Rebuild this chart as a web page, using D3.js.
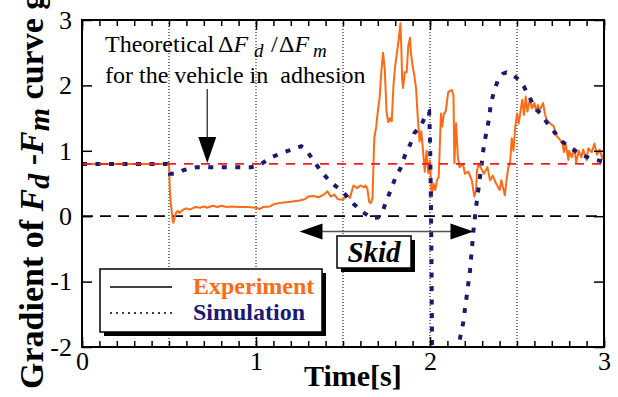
<!DOCTYPE html>
<html>
<head>
<meta charset="utf-8">
<script src="https://cdn.jsdelivr.net/npm/d3@7"></script>
<style>
  html, body { margin: 0; padding: 0; background: #fff; }
  svg { display: block; }
  svg text { font-family: "Liberation Serif", "Times New Roman", serif; white-space: pre; }
</style>
</head>
<body>
<svg id="chart" width="618" height="397"></svg>
<script>
// Measured gradient of the Fd-Fm curve (experiment)
const expTime = [0, 0.49, 0.5, 0.505, 0.51, 0.515, 0.52, 0.525, 0.53, 0.54, 0.55, 0.56, 0.58, 0.6, 0.62, 0.65, 0.68, 0.7, 0.72, 0.75, 0.78, 0.8, 0.83, 0.86, 0.9, 0.95, 1.0, 1.02, 1.04, 1.08, 1.1, 1.13, 1.16, 1.2, 1.25, 1.28, 1.3, 1.33, 1.36, 1.39, 1.41, 1.43, 1.45, 1.47, 1.5, 1.52, 1.54, 1.56, 1.58, 1.6, 1.62, 1.63, 1.64, 1.65, 1.66, 1.67, 1.675, 1.68, 1.69, 1.7, 1.71, 1.72, 1.73, 1.74, 1.75, 1.76, 1.77, 1.78, 1.79, 1.8, 1.81, 1.82, 1.83, 1.835, 1.84, 1.845, 1.855, 1.866, 1.875, 1.885, 1.89, 1.9, 1.91, 1.92, 1.93, 1.94, 1.95, 1.96, 1.97, 1.98, 1.99, 2.0, 2.01, 2.02, 2.03, 2.04, 2.05, 2.063, 2.07, 2.08, 2.09, 2.105, 2.125, 2.135, 2.14, 2.15, 2.16, 2.17, 2.19, 2.2, 2.22, 2.24, 2.255, 2.265, 2.27, 2.28, 2.31, 2.33, 2.345, 2.36, 2.38, 2.4, 2.41, 2.43, 2.44, 2.45, 2.46, 2.47, 2.48, 2.49, 2.5, 2.51, 2.52, 2.53, 2.54, 2.55, 2.56, 2.575, 2.585, 2.6, 2.61, 2.62, 2.63, 2.65, 2.66, 2.67, 2.69, 2.71, 2.73, 2.75, 2.76, 2.77, 2.78, 2.795, 2.8, 2.815, 2.83, 2.84, 2.855, 2.87, 2.88, 2.9, 2.91, 2.93, 2.945, 2.96, 2.975, 2.99, 3.0];
const expGrad = [0.8, 0.8, 0.78, 0.4, 0.2, 0.1, -0.05, -0.1, -0.05, 0.05, 0.08, 0.05, 0.1, 0.12, 0.1, 0.14, 0.13, 0.15, 0.13, 0.16, 0.14, 0.16, 0.14, 0.15, 0.14, 0.14, 0.13, 0.11, 0.14, 0.15, 0.18, 0.2, 0.21, 0.22, 0.24, 0.26, 0.3, 0.31, 0.29, 0.33, 0.38, 0.3, 0.33, 0.26, 0.25, 0.33, 0.28, 0.47, 0.43, 0.47, 0.44, 0.47, 0.42, 0.22, 0.2, 0.28, 0.8, 1.2, 1.35, 1.6, 1.8, 2.2, 2.5, 2.25, 1.6, 1.44, 1.5, 1.45, 2.0, 2.3, 2.5, 2.7, 2.95, 2.6, 2.1, 1.96, 2.2, 2.2, 2.6, 2.73, 2.5, 2.3, 2.15, 1.95, 1.5, 1.14, 1.3, 1.0, 0.68, 1.0, 0.66, 0.85, 0.3, 0.5, 0.4, 0.55, 0.6, 1.57, 1.37, 1.57, 1.6, 1.9, 1.93, 1.85, 0.81, 1.42, 0.9, 0.75, 0.8, 0.65, 0.68, 0.55, 0.3, 0.4, 0.7, 0.8, 0.65, 0.75, 0.55, 0.62, 0.5, 0.4, 0.55, 0.32, 0.55, 0.75, 0.81, 1.19, 1.0, 1.37, 1.57, 1.42, 1.6, 1.78, 1.55, 1.83, 1.6, 1.8, 1.65, 1.73, 1.6, 1.7, 1.62, 1.73, 1.57, 1.47, 1.42, 1.38, 1.22, 1.16, 1.12, 0.98, 1.1, 0.86, 1.0, 0.9, 1.04, 0.82, 1.0, 0.9, 1.02, 0.86, 1.04, 0.98, 1.11, 0.94, 1.02, 0.88, 0.95];

// Simulated gradient (null marks where the curve leaves the plotted range)
const simTime = [0, 0.49, 0.5, 0.505, 0.52, 0.55, 0.58, 0.62, 0.66, 0.75, 0.85, 0.97, 1.02, 1.08, 1.16, 1.21, 1.26, 1.28, 1.31, 1.37, 1.425, 1.5, 1.56, 1.61, 1.665, 1.7, 1.72, 1.745, 1.77, 1.8, 1.83, 1.856, 1.885, 1.91, 1.95, 1.98, 1.995, 2.0, 2.005, 2.008, 2.01, 2.012, 2.015, 2.09, 2.163, 2.17, 2.19, 2.21, 2.23, 2.24, 2.25, 2.265, 2.27, 2.28, 2.3, 2.31, 2.325, 2.34, 2.35, 2.37, 2.39, 2.42, 2.44, 2.47, 2.5, 2.54, 2.57, 2.6, 2.64, 2.675, 2.72, 2.76, 2.81, 2.86, 2.92, 2.99, 3.0];
const simGrad = [0.8, 0.8, 0.75, 0.65, 0.65, 0.66, 0.7, 0.73, 0.75, 0.75, 0.75, 0.75, 0.78, 0.89, 0.98, 1.02, 1.07, 1.04, 0.93, 0.7, 0.53, 0.37, 0.19, 0.07, -0.03, -0.02, 0.02, 0.2, 0.37, 0.58, 0.73, 0.93, 1.09, 1.27, 1.39, 1.58, 1.6, 1.2, 0.3, -0.5, -1.3, -2.0, -2.3, null, -2.3, -1.9, -1.64, -1.24, -0.83, -0.52, -0.21, 0.14, 0.25, 0.45, 0.86, 1.09, 1.29, 1.5, 1.73, 1.92, 2.08, 2.18, 2.2, 2.17, 2.11, 1.98, 1.83, 1.67, 1.55, 1.42, 1.27, 1.14, 1.04, 0.96, 0.88, 0.84, 0.83];

// Reference levels and axis ticks
const theoreticalGrad = 0.8;
const zeroGrad = 0;
const timeGrid = [0.5, 1, 1.5, 2, 2.5];
const xTickLabels = [0, 1, 2, 3];
const yTickLabels = [-2, -1, 0, 1, 2, 3];
const skidSpan = [1.25, 2.25];
const arrowTime = 0.72;

const svg = d3.select("#chart");
const plot = { left: 82, right: 604, top: 20, bottom: 347 };
const x = d3.scaleLinear().domain([0, 3]).range([plot.left, plot.right]);
const y = d3.scaleLinear().domain([-2, 3]).range([plot.bottom, plot.top]);

const ORANGE = "#ff6a14";
const NAVY = "#1a1a72";
const SERIF = "'Liberation Serif', 'Times New Roman', serif";

svg.append("defs").append("clipPath").attr("id", "plotClip")
  .append("rect")
  .attr("x", plot.left).attr("y", plot.top)
  .attr("width", plot.right - plot.left).attr("height", plot.bottom - plot.top);

// vertical dotted grid
svg.append("g").selectAll("line").data(timeGrid).join("line")
  .attr("x1", d => x(d)).attr("x2", d => x(d))
  .attr("y1", plot.top).attr("y2", plot.bottom)
  .attr("stroke", "#000").attr("stroke-width", 1)
  .attr("stroke-dasharray", "1,2");

// zero line
svg.append("line")
  .attr("x1", plot.left).attr("x2", plot.right)
  .attr("y1", y(zeroGrad)).attr("y2", y(zeroGrad))
  .attr("stroke", "#000").attr("stroke-width", 1.8)
  .attr("stroke-dasharray", "11,7");

const dataG = svg.append("g").attr("clip-path", "url(#plotClip)");

const expData = expTime.map((t, i) => ({ t, v: expGrad[i] }));
const simData = simTime.map((t, i) => ({ t, v: simGrad[i] }));
const line = d3.line().defined(d => d.v !== null).x(d => x(d.t)).y(d => y(d.v));

dataG.append("path").datum(expData)
  .attr("d", line).attr("fill", "none")
  .attr("stroke", ORANGE).attr("stroke-width", 2)
  .attr("stroke-linejoin", "round");

// theoretical level
svg.append("line")
  .attr("x1", plot.left).attr("x2", plot.right)
  .attr("y1", y(theoreticalGrad)).attr("y2", y(theoreticalGrad))
  .attr("stroke", "#ff1a1a").attr("stroke-width", 1.8)
  .attr("stroke-dasharray", "9,8");

dataG.append("path").datum(simData)
  .attr("d", line).attr("fill", "none")
  .attr("stroke", NAVY).attr("stroke-width", 4)
  .attr("stroke-dasharray", "5,8.5");

// frame
svg.append("rect")
  .attr("x", plot.left).attr("y", plot.top)
  .attr("width", plot.right - plot.left).attr("height", plot.bottom - plot.top)
  .attr("fill", "none").attr("stroke", "#000").attr("stroke-width", 2);

// inward ticks
const minorX = d3.range(31).map(i => i / 10);
function tickAxis(axis, transform) {
  const g = svg.append("g").attr("transform", transform).call(axis);
  g.select(".domain").remove();
  g.selectAll("line").attr("stroke-width", 1.5);
  g.selectAll("text").remove();
  return g;
}
tickAxis(d3.axisBottom(x).tickValues(minorX).tickSize(-6), `translate(0,${plot.bottom})`);
tickAxis(d3.axisTop(x).tickValues(minorX).tickSize(-6), `translate(0,${plot.top})`);
tickAxis(d3.axisBottom(x).tickValues(xTickLabels).tickSize(-10), `translate(0,${plot.bottom})`);
tickAxis(d3.axisTop(x).tickValues(xTickLabels).tickSize(-10), `translate(0,${plot.top})`);
tickAxis(d3.axisLeft(y).tickValues(yTickLabels).tickSize(-10), `translate(${plot.left},0)`);
tickAxis(d3.axisRight(y).tickValues(yTickLabels).tickSize(-10), `translate(${plot.right},0)`);

// tick labels
const fmt = d => String(d);
const xl = svg.append("g").attr("transform", `translate(0,${plot.bottom})`)
  .call(d3.axisBottom(x).tickValues(xTickLabels).tickSize(0).tickPadding(5).tickFormat(fmt));
xl.select(".domain").remove();
xl.attr("font-family", null).attr("font-size", null);
xl.selectAll("text").style("font-family", SERIF).style("font-size", "26px").attr("fill", "#000");

const yl = svg.append("g").attr("transform", `translate(${plot.left},0)`)
  .call(d3.axisLeft(y).tickValues(yTickLabels).tickSize(0).tickPadding(10).tickFormat(fmt));
yl.select(".domain").remove();
yl.attr("font-family", null).attr("font-size", null);
yl.selectAll("text").style("font-family", SERIF).style("font-size", "26px").attr("fill", "#000");

// axis titles
svg.append("text").attr("x", 304).attr("y", 386)
  .attr("font-size", 30).attr("font-weight", "bold").text("Time[s]");

const yt = svg.append("text")
  .attr("transform", "translate(43,389) rotate(-90)")
  .attr("font-size", 34).attr("font-weight", "bold");
yt.append("tspan").text("Gradient of ");
yt.append("tspan").attr("font-style", "italic").text("F");
yt.append("tspan").attr("font-style", "italic").attr("font-size", 30).attr("dy", 6).text("d");
yt.append("tspan").attr("dy", -6).text(" -");
yt.append("tspan").attr("font-style", "italic").text("F");
yt.append("tspan").attr("font-style", "italic").attr("font-size", 30).attr("dy", 6).text("m");
yt.append("tspan").attr("dy", -6).text(" curve g");

// theoretical annotation
svg.append("text").attr("x", 105).attr("y", 52).attr("font-size", 24).text("Theoretical");
svg.append("text").attr("x", 218).attr("y", 52).attr("font-size", 24)
  .call(t => { t.append("tspan").text("Δ"); t.append("tspan").attr("font-style", "italic").text("F"); });
svg.append("text").attr("x", 254).attr("y", 57).attr("font-size", 19).attr("font-style", "italic").text("d");
svg.append("text").attr("x", 271).attr("y", 52).attr("font-size", 24).text("/");
svg.append("text").attr("x", 279).attr("y", 52).attr("font-size", 24)
  .call(t => { t.append("tspan").text("Δ"); t.append("tspan").attr("font-style", "italic").text("F"); });
svg.append("text").attr("x", 313).attr("y", 57).attr("font-size", 19).attr("font-style", "italic").text("m");
svg.append("text").attr("x", 105).attr("y", 83).attr("font-size", 24)
  .text("for the vehicle in  adhesion");

const ax = x(arrowTime);
svg.append("line").attr("x1", ax).attr("x2", ax).attr("y1", 89).attr("y2", 140)
  .attr("stroke", "#444").attr("stroke-width", 1.5);
svg.append("path")
  .attr("d", `M${ax - 9},137 L${ax + 9},137 L${ax},${y(theoreticalGrad) - 1} Z`)
  .attr("fill", "#000");

// skid span arrow
const sy = 231.5;
const sx0 = x(skidSpan[0]), sx1 = x(skidSpan[1]);
svg.append("line").attr("x1", sx0 + 10).attr("x2", sx1 - 10).attr("y1", sy).attr("y2", sy)
  .attr("stroke", "#555").attr("stroke-width", 1.5);
svg.append("path").attr("d", `M${sx0},${sy} L${sx0 + 23},${sy - 8} L${sx0 + 23},${sy + 8} Z`).attr("fill", "#000");
svg.append("path").attr("d", `M${sx1},${sy} L${sx1 - 23},${sy - 8} L${sx1 - 23},${sy + 8} Z`).attr("fill", "#000");

// boxed labels with drop shadow
function shadowBox(bx, by, bw, bh) {
  svg.append("rect").attr("x", bx + 4).attr("y", by + 4).attr("width", bw).attr("height", bh).attr("fill", "#000");
  svg.append("rect").attr("x", bx).attr("y", by).attr("width", bw).attr("height", bh)
    .attr("fill", "#fff").attr("stroke", "#000").attr("stroke-width", 1.5);
}
shadowBox(337, 236, 74, 32);
svg.append("text").attr("x", 374).attr("y", 262).attr("text-anchor", "middle")
  .attr("font-size", 29).attr("font-weight", "bold").attr("font-style", "italic").text("Skid");

// legend
shadowBox(100, 269, 222, 63);
svg.append("line").attr("x1", 110).attr("x2", 172).attr("y1", 287).attr("y2", 287)
  .attr("stroke", "#000").attr("stroke-width", 1.3);
svg.append("line").attr("x1", 110).attr("x2", 172).attr("y1", 313).attr("y2", 313)
  .attr("stroke", "#000").attr("stroke-width", 1.3).attr("stroke-dasharray", "2,4");
svg.append("text").attr("x", 193).attr("y", 294).attr("font-size", 24).attr("font-weight", "bold")
  .attr("fill", ORANGE).text("Experiment");
svg.append("text").attr("x", 193).attr("y", 320).attr("font-size", 24).attr("font-weight", "bold")
  .attr("fill", NAVY).text("Simulation");
</script>
</body>
</html>
